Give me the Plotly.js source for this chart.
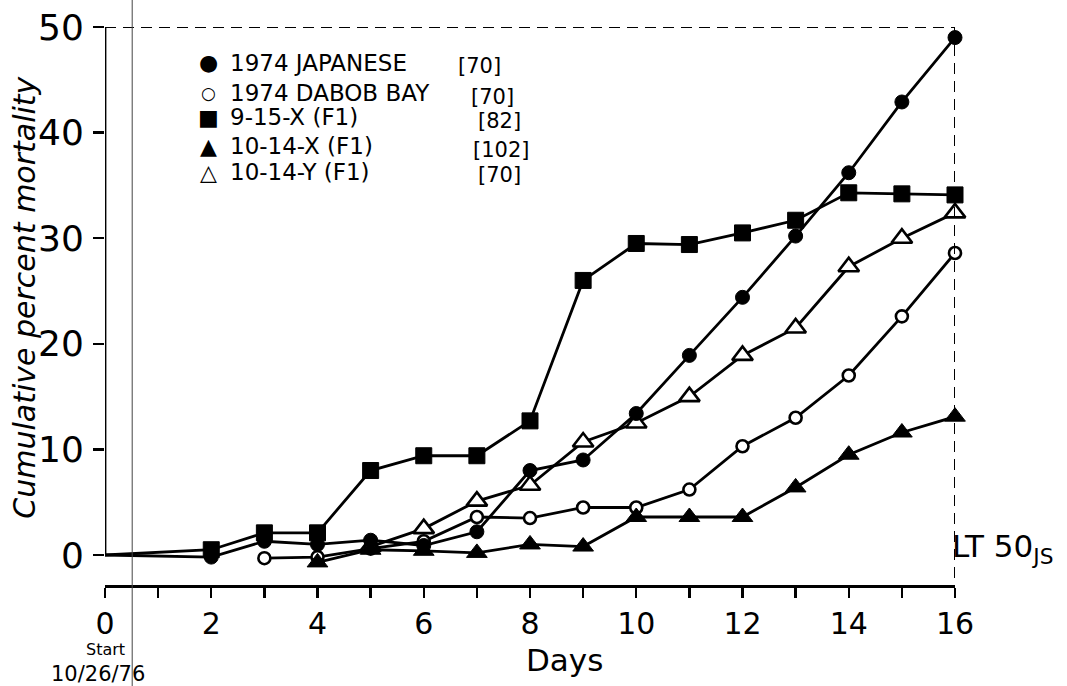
<!DOCTYPE html>
<html>
<head>
<meta charset="utf-8">
<script src="https://cdn.plot.ly/plotly-3.0.1.min.js"></script>
<style>html,body{margin:0;padding:0;background:#fff;}#chart{width:1067px;height:686px;}</style>
</head>
<body>
<div id="chart"></div>
<script>
// ---- data ----
const seriesNames = ["1974 JAPANESE", "1974 DABOB BAY", "9-15-X (F1)", "10-14-X (F1)", "10-14-Y (F1)"];
const seriesCounts = ["[70]", "[70]", "[82]", "[102]", "[70]"];
const legendGlyphs = ["\u25CF", "\u25CB", "\u25A0", "\u25B2", "\u25B3"];

const japaneseDays = [0, 2, 3, 4, 5, 6, 7, 8, 9, 10, 11, 12, 13, 14, 15, 16];
const japaneseVals = [0, -0.2, 1.3, 1.0, 1.4, 0.9, 2.2, 8.0, 9.0, 13.4, 18.9, 24.4, 30.2, 36.2, 42.9, 49.0];

const dabobDays = [3, 4, 5, 6, 7, 8, 9, 10, 11, 12, 13, 14, 15, 16];
const dabobVals = [-0.3, -0.2, 0.6, 1.3, 3.6, 3.5, 4.5, 4.5, 6.2, 10.3, 13.0, 17.0, 22.6, 28.6];

const x915Days = [0, 2, 3, 4, 5, 6, 7, 8, 9, 10, 11, 12, 13, 14, 15, 16];
const x915Vals = [0, 0.5, 2.1, 2.1, 8.0, 9.4, 9.4, 12.7, 26.0, 29.5, 29.4, 30.5, 31.7, 34.3, 34.2, 34.1];

const x1014Days = [4, 5, 6, 7, 8, 9, 10, 11, 12, 13, 14, 15, 16];
const x1014Vals = [-0.7, 0.5, 0.4, 0.2, 1.0, 0.8, 3.6, 3.6, 3.6, 6.4, 9.5, 11.6, 13.1];

const y1014Days = [5, 6, 7, 8, 9, 10, 11, 12, 13, 14, 15, 16];
const y1014Vals = [0.8, 2.5, 5.1, 6.6, 10.7, 12.5, 15.0, 18.9, 21.5, 27.3, 30.0, 32.4];

const xTickVals = [0, 2, 4, 6, 8, 10, 12, 14, 16];
const xMinorTickVals = [1, 3, 5, 7, 9, 11, 13, 15];
const yTickVals = [0, 10, 20, 30, 40, 50];
const lt50Day = 16;
const lt50Pct = 50;

// ---- styling ----
const FONT = "DejaVu Sans";
const LW = 2.8;
function mk(days, vals, symbol, fill, size) {
  return {
    x: days, y: vals, mode: "lines+markers", type: "scatter", cliponaxis: false,
    line: {color: "#000", width: LW},
    marker: {symbol: symbol, color: fill, opacity: 1, size: days.map(d => d === 0 ? 0 : size),
             line: {color: "#000", width: fill === "#000" ? 1 : 2.6}},
    showlegend: false, hoverinfo: "skip"
  };
}
const traces = [
  mk(y1014Days, y1014Vals, "triangle-up", "#fff", 18),
  mk(dabobDays, dabobVals, "circle", "#fff", 12),
  mk(x1014Days, x1014Vals, "triangle-up", "#000", 18),
  mk(japaneseDays, japaneseVals, "circle", "#000", 14),
  mk(x915Days, x915Vals, "square", "#000", 16)
];

const yMin = -2.84;
const annotations = [];
const legendY = [0.936, 0.881, 0.838, 0.786, 0.740];
const countX = [0.413, 0.428, 0.437, 0.430, 0.436];
for (let i = 0; i < seriesNames.length; i++) {
  annotations.push({xref: "paper", yref: "paper", x: 0.122, y: legendY[i], xanchor: "center", yanchor: "middle",
    text: legendGlyphs[i], showarrow: false, font: {family: FONT, size: i === 1 ? 17 : 22, color: "#000"}});
  annotations.push({xref: "paper", yref: "paper", x: 0.145, y: legendY[i], xanchor: "left", yanchor: "middle",
    text: seriesNames[i], showarrow: false, font: {family: FONT, size: 23, color: "#000"}});
  annotations.push({xref: "paper", yref: "paper", x: countX[i], y: legendY[i] - 0.006, xanchor: "left", yanchor: "middle",
    text: seriesCounts[i], showarrow: false, font: {family: FONT, size: 21, color: "#000"}});
}
annotations.push({xref: "paper", yref: "paper", x: -0.094, y: 0.515, xanchor: "center", yanchor: "middle",
  text: "Cumulative percent mortality", textangle: -90, showarrow: false,
  font: {family: FONT, size: 30, style: "italic", color: "#000"}});
annotations.push({xref: "paper", yref: "paper", x: 0.541, y: -0.134, xanchor: "center", yanchor: "middle",
  text: "Days", showarrow: false, font: {family: FONT, size: 31, color: "#000"}});
annotations.push({xref: "paper", yref: "paper", x: 0.0, y: -0.116, xanchor: "center", yanchor: "middle",
  text: "Start", showarrow: false, borderpad: 0, font: {family: FONT, size: 16, color: "#000"}});
annotations.push({xref: "paper", yref: "paper", x: -0.008, y: -0.159, xanchor: "center", yanchor: "middle",
  text: "10/26/76", showarrow: false, borderpad: 0, font: {family: FONT, size: 21, color: "#000"}});
annotations.push({xref: "x", yref: "paper", x: lt50Day, y: 0.066, xanchor: "left", yanchor: "middle", xshift: -5,
  text: "LT 50<sub>JS</sub>", showarrow: false, font: {family: FONT, size: 31, color: "#000"}});

const shapes = [
  {type: "line", xref: "x", yref: "y", x0: 0, y0: yTickVals[0], x1: 0, y1: yTickVals[yTickVals.length - 1],
   line: {color: "#000", width: LW}},
  {type: "line", xref: "x", yref: "y", x0: 0, y0: lt50Pct, x1: lt50Day, y1: lt50Pct,
   line: {color: "#000", width: 2, dash: "11px,7px"}},
  {type: "line", xref: "x", yref: "y", x0: lt50Day, y0: lt50Pct, x1: lt50Day, y1: yMin,
   line: {color: "#000", width: 2, dash: "11px,7px"}},
  {type: "line", xref: "paper", yref: "paper", x0: 0.032, y0: 1.05, x1: 0.032, y1: -0.19,
   line: {color: "#444", width: 1}}
];

const layout = {
  width: 1067, height: 686,
  margin: {l: 105, r: 112, t: 27, b: 101},
  paper_bgcolor: "#fff", plot_bgcolor: "#fff",
  showlegend: false,
  xaxis: {range: [0, 16], tickvals: xTickVals, ticks: "outside", ticklen: 10, tickwidth: 2.4,
          tickcolor: "#000", showline: true, linecolor: "#000", linewidth: LW, showgrid: false, zeroline: false,
          minor: {tickvals: xMinorTickVals, ticks: "outside", ticklen: 10, tickwidth: 2.4, tickcolor: "#000", showgrid: false},
          tickfont: {family: FONT, size: 30, color: "#000"}, fixedrange: true},
  yaxis: {range: [yMin, 50], tickvals: yTickVals, ticks: "outside", ticklen: 11, tickwidth: 2.4, tickcolor: "#000",
          showline: false, showgrid: false, zeroline: false, ticklabelstandoff: 2,
          tickfont: {family: FONT, size: 36, color: "#000"}, fixedrange: true},
  annotations: annotations,
  shapes: shapes
};

Plotly.newPlot("chart", traces, layout, {staticPlot: true, displayModeBar: false});
</script>
</body>
</html>
